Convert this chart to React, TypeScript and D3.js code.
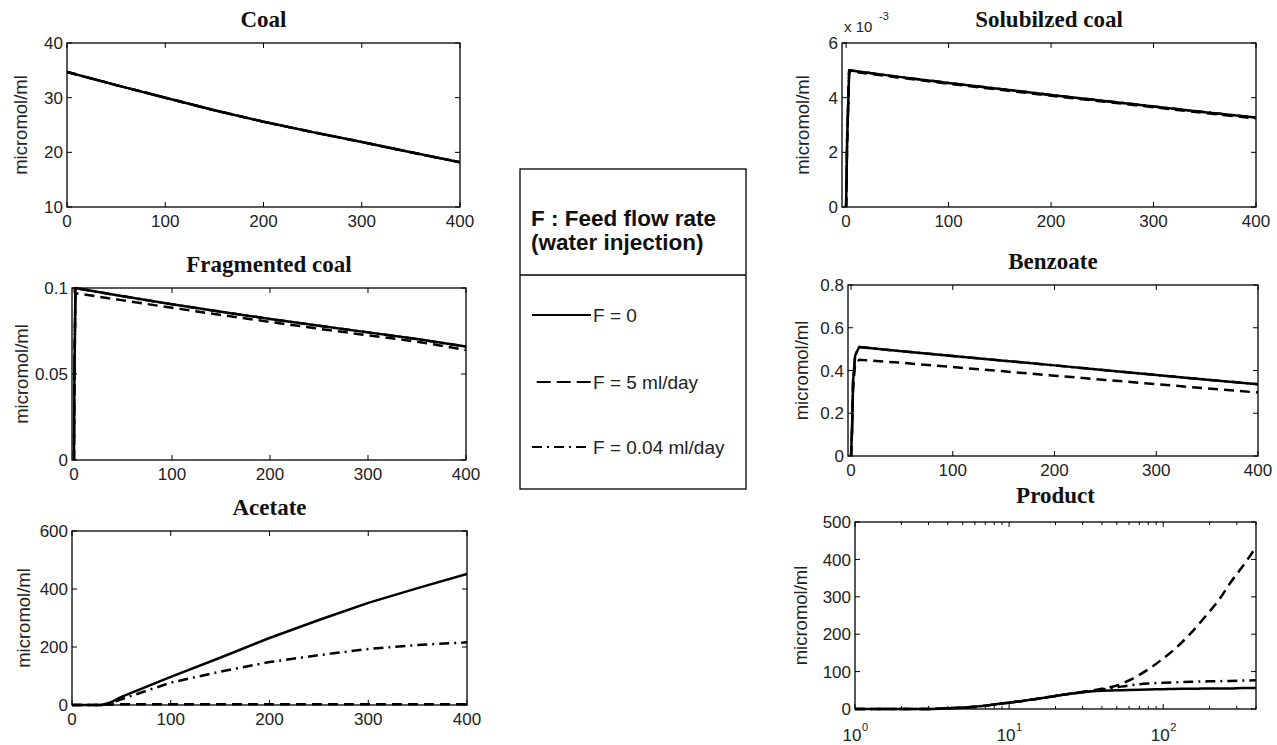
import React from 'react';
import * as d3 from 'd3';

// ---------------- DATA ----------------
const legendLabels = ['F = 0', 'F = 5 ml/day', 'F = 0.04 ml/day'];
const legendTitle = ['F : Feed flow rate', '(water injection)'];
const styles = ['solid', 'dashed', 'dashdot'];

const linearXTicks = [0, 100, 200, 300, 400];

// Coal
const coalX = [0, 50, 100, 150, 200, 250, 300, 350, 400];
const coalF0 = [34.7, 32.3, 30.0, 27.7, 25.6, 23.7, 21.9, 20.0, 18.2];
const coalF5 = [34.7, 32.3, 30.0, 27.7, 25.6, 23.7, 21.9, 20.0, 18.2];
const coalF004 = [34.7, 32.3, 30.0, 27.7, 25.6, 23.7, 21.9, 20.0, 18.2];
const coalYTicks = [10, 20, 30, 40];

// Fragmented coal
const fragX = [0, 0.5, 1.5, 50, 100, 150, 200, 250, 300, 350, 400];
const fragF0 = [0, 0.05, 0.1, 0.0952, 0.0905, 0.0862, 0.082, 0.078, 0.0742, 0.0703, 0.066];
const fragF5 = [0, 0.05, 0.097, 0.0928, 0.0885, 0.0843, 0.0803, 0.0763, 0.0725, 0.0688, 0.064];
const fragF004 = [0, 0.05, 0.1, 0.0952, 0.0905, 0.0862, 0.082, 0.078, 0.0742, 0.0703, 0.066];
const fragYTicks = [0, 0.05, 0.1];

// Acetate
const acetX = [0, 30, 40, 50, 100, 150, 200, 250, 300, 350, 400];
const acetF0 = [0, 0, 10, 28, 97, 163, 231, 293, 352, 403, 452];
const acetF5 = [0, 0, 2, 3, 3, 3, 3, 3, 3, 3, 3];
const acetF004 = [0, 0, 8, 20, 77, 115, 148, 172, 193, 207, 216];
const acetYTicks = [0, 200, 400, 600];

// Solubilized coal
const solX = [0, 1, 3, 50, 100, 150, 200, 250, 300, 350, 400];
const solF0 = [0, 0.0024, 0.005, 0.00477, 0.00454, 0.00432, 0.0041, 0.00389, 0.00368, 0.00347, 0.00327];
const solF5 = [0, 0.0024, 0.00497, 0.00474, 0.00451, 0.00429, 0.00407, 0.00386, 0.00365, 0.00344, 0.00324];
const solF004 = [0, 0.0024, 0.005, 0.00477, 0.00454, 0.00432, 0.0041, 0.00389, 0.00368, 0.00347, 0.00327];
const solYTicks = [0, 0.002, 0.004, 0.006];

// Benzoate
const benzX = [0, 1, 2, 4, 8, 50, 100, 150, 200, 250, 300, 350, 400];
const benzF0 = [0, 0.13, 0.35, 0.47, 0.51, 0.49, 0.468, 0.446, 0.424, 0.401, 0.379, 0.357, 0.336];
const benzF5 = [0, 0.12, 0.32, 0.43, 0.45, 0.436, 0.416, 0.396, 0.376, 0.356, 0.336, 0.316, 0.297];
const benzF004 = [0, 0.13, 0.35, 0.47, 0.51, 0.49, 0.468, 0.446, 0.424, 0.401, 0.379, 0.357, 0.336];
const benzYTicks = [0, 0.2, 0.4, 0.6, 0.8];

// Product (log time axis)
const prodX = [1, 3, 4, 6, 8, 10, 12, 15, 20, 25, 30, 40, 50, 60, 80, 100, 130, 160, 200, 270, 330, 400];
const prodF0 = [0, 0, 2, 6, 12, 17, 21, 27, 35, 41, 45, 49, 50, 51, 52, 53, 54, 54, 55, 55, 56, 56];
const prodF004 = [0, 0, 2, 6, 12, 17, 21, 27, 35, 41, 45, 52, 58, 63, 68, 70, 72, 73, 74, 75, 76, 77];
const prodX5 = [1, 3, 4, 6, 8, 10, 12, 15, 20, 25, 30, 40, 50, 61, 80, 95, 120, 149, 190, 234, 270, 315, 360, 400];
const prodF5 = [0, 0, 2, 6, 12, 17, 21, 27, 35, 41, 46, 54, 63, 78, 106, 128, 162, 200, 250, 296, 335, 372, 405, 433];
const prodYTicks = [0, 100, 200, 300, 400, 500];
const prodMajorX = [1, 10, 100];
const prodMinorX = [2, 3, 4, 5, 6, 7, 8, 9, 20, 30, 40, 50, 60, 70, 80, 90, 200, 300, 400];

// ---------------- LAYOUT / STYLE ----------------
const SANS = "'Liberation Sans', Arial, Helvetica, sans-serif";
const SERIF = "'Liberation Serif', 'Times New Roman', serif";
const dashFor: Record<string, string | undefined> = {
  solid: undefined,
  dashed: '10,6',
  dashdot: '10,5,2,5',
};

type Series = { x: number[]; y: number[]; style: string };
type PanelCfg = {
  id: string;
  title: string;
  left: number; top: number; width: number; height: number;
  xDomain: [number, number];
  yDomain: [number, number];
  log?: boolean;
  yTicks: number[];
  yFmt: (v: number) => string;
  ylabelOff: number;
  titleOff: number;
  series: Series[];
};

const mk = (x: number[], ys: number[][]): Series[] => ys.map((y, i) => ({ x, y, style: styles[i] }));

const panels: PanelCfg[] = [
  { id: 'coal', title: 'Coal', left: 67, top: 43, width: 393, height: 164, xDomain: [0, 400], yDomain: [10, 40],
    yTicks: coalYTicks, yFmt: (v) => String(v), ylabelOff: 47, titleOff: 16, series: mk(coalX, [coalF0, coalF5, coalF004]) },
  { id: 'frag', title: 'Fragmented coal', left: 72, top: 288, width: 394, height: 172, xDomain: [-2, 400], yDomain: [0, 0.1],
    yTicks: fragYTicks, yFmt: (v) => String(v), ylabelOff: 51, titleOff: 16, series: mk(fragX, [fragF0, fragF5, fragF004]) },
  { id: 'acet', title: 'Acetate', left: 72, top: 531, width: 395, height: 174, xDomain: [0, 400], yDomain: [0, 600],
    yTicks: acetYTicks, yFmt: (v) => String(v), ylabelOff: 49, titleOff: 16, series: mk(acetX, [acetF0, acetF5, acetF004]) },
  { id: 'sol', title: 'Solubilzed coal', left: 842, top: 43, width: 414, height: 164, xDomain: [-4, 400], yDomain: [0, 0.006],
    yTicks: solYTicks, yFmt: (v) => String(Math.round(v * 1000)), ylabelOff: 40, titleOff: 16, series: mk(solX, [solF0, solF5, solF004]) },
  { id: 'benz', title: 'Benzoate', left: 848, top: 285, width: 410, height: 171, xDomain: [-3, 400], yDomain: [0, 0.8],
    yTicks: benzYTicks, yFmt: (v) => (v === 0 ? '0' : String(v)), ylabelOff: 47, titleOff: 16, series: mk(benzX, [benzF0, benzF5, benzF004]) },
  { id: 'prod', title: 'Product', left: 855, top: 522, width: 401, height: 187, xDomain: [1, 400], yDomain: [0, 500], log: true,
    yTicks: prodYTicks, yFmt: (v) => String(v), ylabelOff: 55, titleOff: 19,
    series: [
      { x: prodX, y: prodF0, style: 'solid' },
      { x: prodX5, y: prodF5, style: 'dashed' },
      { x: prodX, y: prodF004, style: 'dashdot' },
    ] },
];

function Panel({ p }: { p: PanelCfg }) {
  const x: any = p.log
    ? d3.scaleLog().domain(p.xDomain).range([p.left, p.left + p.width])
    : d3.scaleLinear().domain(p.xDomain).range([p.left, p.left + p.width]);
  const y = d3.scaleLinear().domain(p.yDomain).range([p.top + p.height, p.top]);
  const bottom = p.top + p.height;
  const right = p.left + p.width;
  const line = d3
    .line<[number, number]>()
    .x((d) => x(d[0]))
    .y((d) => y(d[1]))
    .curve(p.log ? d3.curveMonotoneX : d3.curveLinear);
  const TL = 5;
  const xMajor = p.log ? prodMajorX : linearXTicks;
  return (
    <g>
      <defs>
        <clipPath id={`clip-${p.id}`}>
          <rect x={p.left} y={p.top - 2} width={p.width} height={p.height + 4} />
        </clipPath>
      </defs>
      <rect x={p.left} y={p.top} width={p.width} height={p.height} fill="#fff" stroke="none" />
      <g clipPath={`url(#clip-${p.id})`}>
        {p.series.map((s, i) => (
          <path
            key={i}
            d={line(s.x.map((xv, j) => [xv, s.y[j]] as [number, number])) || ''}
            fill="none"
            stroke="#000"
            strokeWidth={2.5}
            strokeDasharray={dashFor[s.style]}
            strokeLinejoin="round"
          />
        ))}
      </g>
      <rect x={p.left} y={p.top} width={p.width} height={p.height} fill="none" stroke="#000" strokeWidth={1.3} />
      {xMajor.map((t) => (
        <g key={`xt${t}`}>
          <line x1={x(t)} x2={x(t)} y1={bottom} y2={bottom - TL} stroke="#000" />
          <line x1={x(t)} x2={x(t)} y1={p.top} y2={p.top + TL} stroke="#000" />
          {p.log ? (
            <g fontFamily={SANS} fill="#222">
              <text x={x(t) - 3} y={bottom + 32} fontSize={17} textAnchor="middle">10</text>
              <text x={x(t) + 7} y={bottom + 22} fontSize={11}>{String(Math.round(Math.log10(t)))}</text>
            </g>
          ) : (
            <text x={x(t)} y={bottom + 20} fontSize={17} fontFamily={SANS} textAnchor="middle" fill="#222">
              {String(t)}
            </text>
          )}
        </g>
      ))}
      {p.log &&
        prodMinorX.map((t) => (
          <g key={`mx${t}`}>
            <line x1={x(t)} x2={x(t)} y1={bottom} y2={bottom - 3} stroke="#000" />
            <line x1={x(t)} x2={x(t)} y1={p.top} y2={p.top + 3} stroke="#000" />
          </g>
        ))}
      {p.yTicks.map((t) => (
        <g key={`yt${t}`}>
          <line x1={p.left} x2={p.left + TL} y1={y(t)} y2={y(t)} stroke="#000" />
          <line x1={right} x2={right - TL} y1={y(t)} y2={y(t)} stroke="#000" />
          <text x={p.left - 4} y={y(t)} dy="0.36em" fontSize={17} fontFamily={SANS} textAnchor="end" fill="#222">
            {p.yFmt(t)}
          </text>
        </g>
      ))}
      <text
        x={(p.left + right) / 2}
        y={p.top - p.titleOff}
        fontSize={23}
        fontWeight="bold"
        fontFamily={SERIF}
        textAnchor="middle"
        fill="#111"
      >
        {p.title}
      </text>
      <text
        transform={`translate(${p.left - p.ylabelOff},${p.top + p.height / 2}) rotate(-90)`}
        dy="0.36em"
        fontSize={18.5}
        fontFamily={SANS}
        textAnchor="middle"
        fill="#222"
      >
        micromol/ml
      </text>
      {p.id === 'sol' && (
        <g fontFamily={SANS} fill="#222">
          <text x={844} y={32} fontSize={15}>x 10</text>
          <text x={879} y={20} fontSize={11}>-3</text>
        </g>
      )}
    </g>
  );
}

function Legend() {
  const lx = 520, ly = 169, lw = 226, lh = 320;
  const itemY = [315, 382, 447];
  const sx = d3.scaleLinear().domain([0, 1]).range([532, 591]);
  return (
    <g>
      <rect x={lx} y={ly} width={lw} height={lh} fill="#fff" stroke="#000" strokeWidth={1.3} />
      <line x1={lx} x2={lx + lw} y1={275} y2={275} stroke="#000" strokeWidth={1.3} />
      <text x={531} y={226} fontSize={22.5} fontWeight="bold" fontFamily={SANS} fill="#111">{legendTitle[0]}</text>
      <text x={531} y={250} fontSize={22.5} fontWeight="bold" fontFamily={SANS} fill="#111">{legendTitle[1]}</text>
      {legendLabels.map((lab, i) => (
        <g key={lab}>
          <line
            x1={sx(i === 1 ? 0.08 : 0)}
            x2={sx(1)}
            y1={itemY[i]}
            y2={itemY[i]}
            stroke="#000"
            strokeWidth={2.2}
            strokeDasharray={i === 1 ? '14,6' : dashFor[styles[i]]}
          />
          <text x={593} y={itemY[i]} dy="0.36em" fontSize={19} fontFamily={SANS} fill="#222">
            {lab}
          </text>
        </g>
      ))}
    </g>
  );
}

export default function App() {
  return (
    <svg
      width={1277}
      height={745}
      viewBox="0 0 1277 745"
      style={{ position: 'absolute', left: 0, top: 0, background: '#fff' }}
    >
      <rect x={0} y={0} width={1277} height={745} fill="#fff" />
      {panels.map((p) => (
        <Panel key={p.id} p={p} />
      ))}
      <Legend />
    </svg>
  );
}
